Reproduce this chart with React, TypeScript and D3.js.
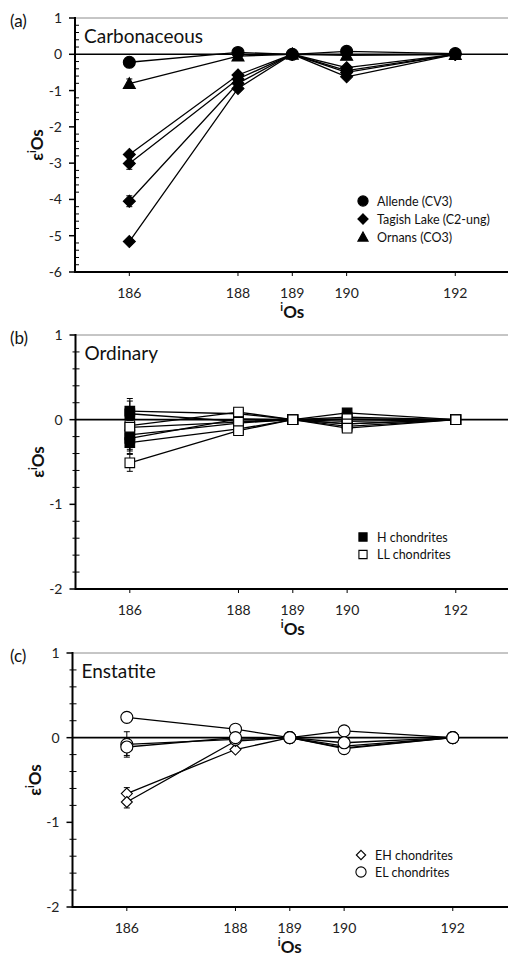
import React from "react";
import * as d3 from "d3";

// Osmium isotopes on the x axis
const isotopes = [186, 188, 189, 190, 192];
const tickIsotopes = [186, 188, 189, 190, 192];

// (a) Carbonaceous chondrites: epsilon values at 186, 188, 189, 190, 192
const allende = [[-0.22, 0.05, 0, 0.08, 0.02]];
const allendeErr = [[0.05, 0.03, 0.01, 0.03, 0.02]];
const tagishLake = [
  [-2.76, -0.57, 0, -0.37, 0],
  [-3.01, -0.68, 0, -0.45, 0],
  [-4.05, -0.8, 0, -0.5, 0],
  [-5.16, -0.94, 0, -0.62, 0],
];
const tagishLakeErr = [
  [0.08, 0.05, 0.01, 0.04, 0.02],
  [0.16, 0.05, 0.01, 0.04, 0.02],
  [0.15, 0.05, 0.01, 0.04, 0.02],
  [0.08, 0.05, 0.01, 0.04, 0.02],
];
const ornans = [[-0.81, -0.05, 0, -0.03, -0.01]];
const ornansErr = [[0.13, 0.05, 0.01, 0.04, 0.02]];

// (b) Ordinary chondrites
const hChondrites = [
  [0.1, 0.07, 0, 0.08, 0],
  [0.07, -0.02, 0, 0.03, 0],
  [-0.18, -0.04, 0, -0.02, 0],
  [-0.22, 0.01, 0, -0.05, 0],
  [-0.27, -0.11, 0, -0.08, 0],
];
const hChondritesErr = [
  [0.15, 0.03, 0.01, 0.03, 0.01],
  [0.15, 0.03, 0.01, 0.03, 0.01],
  [0.17, 0.03, 0.01, 0.03, 0.01],
  [0.15, 0.03, 0.01, 0.03, 0.01],
  [0.13, 0.03, 0.01, 0.03, 0.01],
];
const llChondrites = [
  [-0.07, 0.09, 0, 0.01, 0],
  [-0.09, -0.03, 0, -0.05, 0],
  [-0.51, -0.13, 0, -0.1, 0],
];
const llChondritesErr = [
  [0.1, 0.03, 0.01, 0.03, 0.01],
  [0.1, 0.03, 0.01, 0.03, 0.01],
  [0.1, 0.03, 0.01, 0.03, 0.01],
];

// (c) Enstatite chondrites
const ehChondrites = [
  [-0.66, -0.14, 0, -0.1, 0],
  [-0.76, -0.04, 0, -0.12, 0],
];
const ehChondritesErr = [
  [0.07, 0.03, 0.01, 0.03, 0.01],
  [0.07, 0.03, 0.01, 0.03, 0.01],
];
const elChondrites = [
  [0.24, 0.1, 0, -0.13, 0],
  [-0.08, -0.02, 0, 0.08, 0],
  [-0.11, 0.0, 0, -0.06, 0],
];
const elChondritesErr = [
  [0.04, 0.03, 0.01, 0.03, 0.01],
  [0.15, 0.03, 0.01, 0.03, 0.01],
  [0.1, 0.03, 0.01, 0.03, 0.01],
];

const FONT = "Lato, 'Open Sans', sans-serif";

type Shape = "circle" | "diamond" | "triangle" | "square";

type Group = {
  label: string;
  shape: Shape;
  filled: boolean;
  size: number;
  values: number[][];
  errors: number[][];
};

function markerPath(shape: Shape, s: number): string {
  const p = d3.path();
  if (shape === "circle") {
    p.arc(0, 0, s, 0, Math.PI * 2);
  } else if (shape === "diamond") {
    p.moveTo(0, -s);
    p.lineTo(s, 0);
    p.lineTo(0, s);
    p.lineTo(-s, 0);
  } else if (shape === "triangle") {
    p.moveTo(0, -s);
    p.lineTo(s, s * 0.8);
    p.lineTo(-s, s * 0.8);
  } else {
    p.rect(-s, -s, 2 * s, 2 * s);
  }
  p.closePath();
  return p.toString();
}

function Marker({ shape, filled, size, x, y }: { shape: Shape; filled: boolean; size: number; x: number; y: number }) {
  return (
    <path
      d={markerPath(shape, size)}
      transform={`translate(${x},${y})`}
      fill={filled ? "#000" : "#fff"}
      stroke="#000"
      strokeWidth={1.1}
    />
  );
}

type PanelProps = {
  tag: string;
  name: string;
  top: number;
  bottom: number;
  axisX: number;
  yMin: number;
  minorOutside: boolean;
  groups: Group[];
  legendX: number;
  legendY: number;
  legendStep: number;
};

function Panel({ tag, name, top, bottom, axisX, yMin, minorOutside, groups, legendX, legendY, legendStep }: PanelProps) {
  const right = 508;
  const x = d3.scaleLinear().domain([185, 193]).range([axisX, axisX + 434.6]);
  const y = d3.scaleLinear().domain([yMin, 1]).range([bottom, top]);
  const majors = d3.range(yMin, 1.001, 1);
  const minors = d3.range(yMin, 1.001, 0.2).filter((v) => Math.abs(v - Math.round(v)) > 1e-6);
  const line = d3
    .line<number>()
    .x((_, i) => x(isotopes[i]))
    .y((v) => y(v));

  return (
    <g>
      {/* frame */}
      <line x1={axisX} x2={right} y1={top} y2={top} stroke="#8c8c8c" strokeWidth={1} />
      <line x1={axisX} x2={right} y1={y(0)} y2={y(0)} stroke="#000" strokeWidth={1.6} />
      <line x1={axisX} x2={right} y1={bottom} y2={bottom} stroke="#000" strokeWidth={2.2} />
      <line x1={axisX} x2={axisX} y1={top - 1} y2={bottom + 1} stroke="#000" strokeWidth={2} />
      {majors.map((v) => (
        <line key={`M${v}`} x1={axisX - 6} x2={axisX} y1={y(v)} y2={y(v)} stroke="#000" strokeWidth={1.5} />
      ))}
      {minors.map((v) => (
        <line
          key={`m${v.toFixed(1)}`}
          x1={minorOutside ? axisX - 3 : axisX}
          x2={axisX + 4}
          y1={y(v)}
          y2={y(v)}
          stroke="#000"
          strokeWidth={1}
        />
      ))}
      {majors.map((v) => (
        <text key={`L${v}`} x={axisX - 13} y={y(v) + 5} textAnchor="end" fontSize={14} fontFamily={FONT} fill="#222">
          {v}
        </text>
      ))}
      {tickIsotopes.map((t) => (
        <g key={`x${t}`}>
          <line x1={x(t)} x2={x(t)} y1={bottom} y2={bottom + 4} stroke="#000" strokeWidth={1} />
          <text x={x(t)} y={bottom + 26} textAnchor="middle" fontSize={14} fontFamily={FONT} fill="#222">
            {t}
          </text>
        </g>
      ))}
      {/* axis titles */}
      <text x={x(189)} y={bottom + 46} textAnchor="middle" fontSize={17} fontWeight="bold" fontFamily={FONT} fill="#111">
        <tspan fontSize={11} dy={-7}>i</tspan>
        <tspan dy={7}>Os</tspan>
      </text>
      <text
        transform={`translate(${axisX - 32},${(top + bottom) / 2}) rotate(-90)`}
        textAnchor="middle"
        fontSize={17}
        fontWeight="bold"
        fontFamily={FONT}
        fill="#111"
      >
        <tspan>ε</tspan>
        <tspan fontSize={11} dy={-7}>i</tspan>
        <tspan dy={7}>Os</tspan>
      </text>
      <text x={10} y={top + 9} fontSize={17} fontFamily={FONT} fill="#111">
        {tag}
      </text>
      <text x={axisX + 9} y={top + 25} fontSize={19} fontFamily={FONT} fill="#111">
        {name}
      </text>

      {/* series lines */}
      {groups.map((g, gi) =>
        g.values.map((vals, si) => (
          <path key={`l${gi}-${si}`} d={line(vals) || ""} fill="none" stroke="#000" strokeWidth={1.3} />
        ))
      )}
      {/* error bars */}
      {groups.map((g, gi) =>
        g.values.map((vals, si) =>
          vals.map((v, i) => {
            const e = g.errors[si][i];
            const cx = x(isotopes[i]);
            return (
              <g key={`e${gi}-${si}-${i}`} stroke="#000" strokeWidth={1}>
                <line x1={cx} x2={cx} y1={y(v + e)} y2={y(v - e)} />
                <line x1={cx - 3} x2={cx + 3} y1={y(v + e)} y2={y(v + e)} />
                <line x1={cx - 3} x2={cx + 3} y1={y(v - e)} y2={y(v - e)} />
              </g>
            );
          })
        )
      )}
      {/* markers */}
      {groups.map((g, gi) =>
        g.values.map((vals, si) =>
          vals.map((v, i) => (
            <Marker key={`p${gi}-${si}-${i}`} shape={g.shape} filled={g.filled} size={g.size} x={x(isotopes[i])} y={y(v)} />
          ))
        )
      )}
      {/* legend */}
      {groups
        .slice()
        .sort((a, b) => legendOrder(a.label) - legendOrder(b.label))
        .map((g, i) => (
          <g key={`lg${i}`}>
            <Marker shape={g.shape} filled={g.filled} size={g.size * 0.85} x={legendX} y={legendY + i * legendStep} />
            <text x={legendX + 14} y={legendY + i * legendStep + 4.5} fontSize={12.5} fontFamily={FONT} fill="#111">
              {g.label}
            </text>
          </g>
        ))}
    </g>
  );
}

const legendLabels = [
  "Allende (CV3)",
  "Tagish Lake (C2-ung)",
  "Ornans (CO3)",
  "H chondrites",
  "LL chondrites",
  "EH chondrites",
  "EL chondrites",
];
function legendOrder(label: string) {
  return legendLabels.indexOf(label);
}

export default function App() {
  const carbonaceous: Group[] = [
    { label: "Tagish Lake (C2-ung)", shape: "diamond", filled: true, size: 6, values: tagishLake, errors: tagishLakeErr },
    { label: "Ornans (CO3)", shape: "triangle", filled: true, size: 6, values: ornans, errors: ornansErr },
    { label: "Allende (CV3)", shape: "circle", filled: true, size: 6, values: allende, errors: allendeErr },
  ];
  const ordinary: Group[] = [
    { label: "H chondrites", shape: "square", filled: true, size: 4.8, values: hChondrites, errors: hChondritesErr },
    { label: "LL chondrites", shape: "square", filled: false, size: 4.8, values: llChondrites, errors: llChondritesErr },
  ];
  const enstatite: Group[] = [
    { label: "EH chondrites", shape: "diamond", filled: false, size: 5.5, values: ehChondrites, errors: ehChondritesErr },
    { label: "EL chondrites", shape: "circle", filled: false, size: 6, values: elChondrites, errors: elChondritesErr },
  ];
  return (
    <div style={{ position: "absolute", left: 0, top: 0, width: 508, height: 956, background: "#fff" }}>
      <svg width={508} height={956} style={{ display: "block" }}>
        <rect width={508} height={956} fill="#fff" />
        <Panel
          tag="(a)"
          name="Carbonaceous"
          top={18}
          bottom={272}
          axisX={75}
          yMin={-6}
          minorOutside={false}
          groups={carbonaceous}
          legendX={363}
          legendY={201}
          legendStep={18}
        />
        <Panel
          tag="(b)"
          name="Ordinary"
          top={335}
          bottom={589}
          axisX={75.5}
          yMin={-2}
          minorOutside={true}
          groups={ordinary}
          legendX={363}
          legendY={537}
          legendStep={17.5}
        />
        <Panel
          tag="(c)"
          name="Enstatite"
          top={653}
          bottom={907}
          axisX={72.5}
          yMin={-2}
          minorOutside={true}
          groups={enstatite}
          legendX={361}
          legendY={855}
          legendStep={17}
        />
      </svg>
    </div>
  );
}
